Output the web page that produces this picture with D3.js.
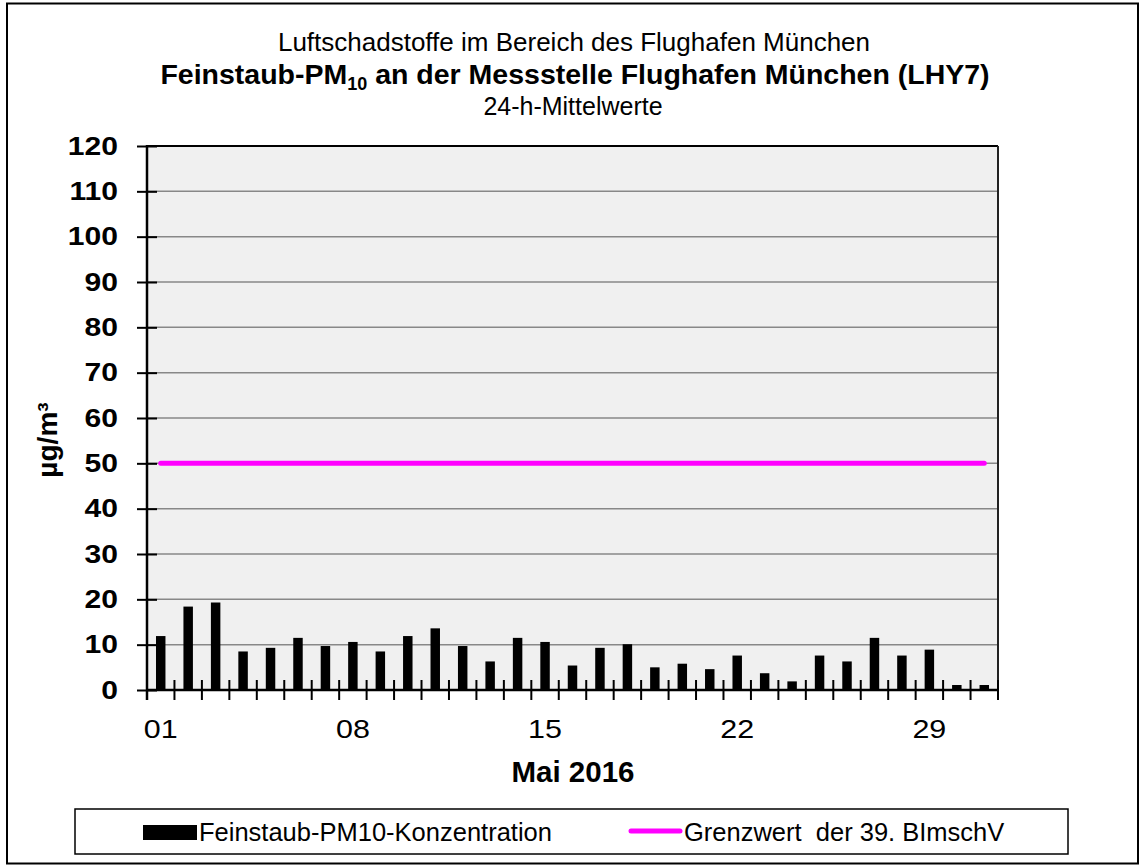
<!DOCTYPE html>
<html>
<head>
<meta charset="utf-8">
<script src="https://cdn.jsdelivr.net/npm/d3@7"></script>
<style>
  body { margin: 0; background: #fff; }
  text { font-family: 'Liberation Sans', Arial, sans-serif; fill: #000; }
</style>
</head>
<body>
<div id="wrapper"></div>
<script>
// Data (24-h means, May 2016)
const days = d3.range(1, 32).map((d) => String(d).padStart(2, '0'))
const pm10 = [11.9, 18.4, 19.3, 8.5, 9.3, 11.5, 9.7, 10.6, 8.5, 11.9, 13.6, 9.7, 6.3, 11.5, 10.6, 5.4,
  9.3, 10.1, 5.0, 5.8, 4.6, 7.6, 3.7, 1.9, 7.6, 6.3, 11.5, 7.6, 8.9, 1.1, 1.1]
const limitValue = 50
const yTicks = d3.range(0, 121, 10)
const xLabels = ['01', '08', '15', '22', '29']

const titleLines = ['Luftschadstoffe im Bereich des Flughafen München', '24-h-Mittelwerte']
const legendLabels = ['Feinstaub-PM10-Konzentration', 'Grenzwert  der 39. BImschV']

function draw() {
  const dimensions = {
    width: 1142,
    height: 867,
    margin: { top: 146, right: 144, bottom: 177, left: 147 },
  }
  dimensions.boundedWidth = dimensions.width - dimensions.margin.left - dimensions.margin.right
  dimensions.boundedHeight = dimensions.height - dimensions.margin.top - dimensions.margin.bottom

  const wrapper = d3.select('#wrapper')
    .append('svg')
    .attr('width', dimensions.width)
    .attr('height', dimensions.height)

  // outer frame
  wrapper.append('rect')
    .attr('x', 7).attr('y', 3.5)
    .attr('width', 1131).attr('height', 860)
    .attr('fill', 'none').attr('stroke', '#000').attr('stroke-width', 2)

  // titles
  wrapper.append('text')
    .attr('x', 574).attr('y', 51)
    .attr('text-anchor', 'middle')
    .style('font-size', '26px')
    .text(titleLines[0])

  const title2 = wrapper.append('text')
    .attr('x', 575).attr('y', 84)
    .attr('text-anchor', 'middle')
    .style('font-size', '28.5px')
    .style('font-weight', 'bold')
  title2.append('tspan').text('Feinstaub-PM')
  title2.append('tspan').attr('dy', 6).style('font-size', '18px').text('10')
  title2.append('tspan').attr('dy', -6).text(' an der Messstelle Flughafen München (LHY7)')

  wrapper.append('text')
    .attr('x', 573).attr('y', 115)
    .attr('text-anchor', 'middle')
    .style('font-size', '25px')
    .text(titleLines[1])

  const bounds = wrapper.append('g')
    .attr('transform', `translate(${dimensions.margin.left}, ${dimensions.margin.top})`)

  // scales
  const xScale = d3.scaleBand()
    .domain(days)
    .range([0, dimensions.boundedWidth])

  const yScale = d3.scaleLinear()
    .domain([0, 120])
    .range([dimensions.boundedHeight, 0])

  bounds.append('rect')
    .attr('width', dimensions.boundedWidth)
    .attr('height', dimensions.boundedHeight)
    .attr('fill', '#f0f0f0')

  // gridlines
  bounds.append('g')
    .selectAll('line')
    .data(yTicks.filter((d) => d > 0 && d < 120))
    .join('line')
    .attr('x1', 0).attr('x2', dimensions.boundedWidth)
    .attr('y1', (d) => yScale(d)).attr('y2', (d) => yScale(d))
    .attr('stroke', '#888').attr('stroke-width', 1.5)

  // plot border top / right
  bounds.append('line')
    .attr('x1', 0).attr('x2', dimensions.boundedWidth)
    .attr('y1', 0).attr('y2', 0)
    .attr('stroke', '#000').attr('stroke-width', 2)
  bounds.append('line')
    .attr('x1', dimensions.boundedWidth).attr('x2', dimensions.boundedWidth)
    .attr('y1', 0).attr('y2', dimensions.boundedHeight)
    .attr('stroke', '#222').attr('stroke-width', 2)

  // bars
  const barWidth = xScale.bandwidth() * 0.345
  bounds.append('g')
    .selectAll('rect')
    .data(pm10)
    .join('rect')
    .attr('x', (d, i) => xScale(days[i]) + (xScale.bandwidth() - barWidth) / 2)
    .attr('y', (d) => yScale(d))
    .attr('width', barWidth)
    .attr('height', (d) => yScale(0) - yScale(d))
    .attr('fill', '#000')

  // limit line
  bounds.append('line')
    .attr('x1', xScale(days[0]) + xScale.bandwidth() / 2)
    .attr('x2', xScale(days[days.length - 1]) + xScale.bandwidth() / 2)
    .attr('y1', yScale(limitValue)).attr('y2', yScale(limitValue))
    .attr('stroke', '#ff00ff').attr('stroke-width', 5)
    .attr('stroke-linecap', 'round')

  // y axis
  const yAxisGenerator = d3.axisLeft(yScale)
    .tickValues(yTicks)
    .tickSize(10)
    .tickPadding(18)
  const yAxis = bounds.append('g').call(yAxisGenerator)
  yAxis.select('.domain').remove()
  yAxis.selectAll('.tick line')
    .attr('x2', -10).attr('x1', 10)
    .attr('stroke-width', 2)
  // the original draws digits wider than Arial, so scale them horizontally
  yAxis.selectAll('.tick text')
    .attr('x', 0)
    .attr('transform', 'translate(-29, 0) scale(1.18, 1)')
    .style('font-size', '25.5px')
    .style('font-weight', 'bold')
    .style('font-family', "'Liberation Sans', Arial, sans-serif")
  bounds.append('line')
    .attr('x1', 0).attr('x2', 0)
    .attr('y1', -1).attr('y2', dimensions.boundedHeight + 10)
    .attr('stroke', '#000').attr('stroke-width', 2.5)

  // x axis: cross ticks on band edges
  const edges = days.map((d) => xScale(d)).concat([dimensions.boundedWidth]).slice(1)
  const xAxis = bounds.append('g')
    .attr('transform', `translate(0, ${dimensions.boundedHeight})`)
  xAxis.append('line')
    .attr('x1', 0).attr('x2', dimensions.boundedWidth)
    .attr('stroke', '#000').attr('stroke-width', 2.5)
  xAxis.selectAll('.tk')
    .data(edges)
    .join('line')
    .attr('class', 'tk')
    .attr('x1', (d) => d).attr('x2', (d) => d)
    .attr('y1', -10).attr('y2', 10)
    .attr('stroke', '#000').attr('stroke-width', 2)
  xAxis.selectAll('.lbl')
    .data(xLabels)
    .join('text')
    .attr('class', 'lbl')
    .attr('transform', (d) => `translate(${xScale(d) + xScale.bandwidth() / 2}, 48) scale(1.15, 1)`)
    .attr('text-anchor', 'middle')
    .style('font-size', '26.5px')
    .text((d) => d)

  // axis titles
  wrapper.append('text')
    .attr('x', 573).attr('y', 782)
    .attr('text-anchor', 'middle')
    .style('font-size', '29.5px')
    .style('font-weight', 'bold')
    .text('Mai 2016')

  wrapper.append('text')
    .attr('transform', 'translate(57, 440) rotate(-90)')
    .attr('text-anchor', 'middle')
    .style('font-size', '28px')
    .style('font-weight', 'bold')
    .text('µg/m³')

  // legend
  const legend = wrapper.append('g')
  legend.append('rect')
    .attr('x', 75).attr('y', 809)
    .attr('width', 993).attr('height', 45)
    .attr('fill', '#fff').attr('stroke', '#000').attr('stroke-width', 1.5)
  legend.append('rect')
    .attr('x', 143).attr('y', 825)
    .attr('width', 54).attr('height', 15)
    .attr('fill', '#000')
  legend.append('text')
    .attr('x', 199).attr('y', 841)
    .style('font-size', '25.5px')
    .text(legendLabels[0])
  legend.append('line')
    .attr('x1', 631).attr('x2', 680)
    .attr('y1', 831).attr('y2', 831)
    .attr('stroke', '#ff00ff').attr('stroke-width', 5)
    .attr('stroke-linecap', 'round')
  legend.append('text')
    .attr('x', 684).attr('y', 841)
    .style('font-size', '25.5px')
    .style('white-space', 'pre')
    .text(legendLabels[1])
}
draw()
</script>
</body>
</html>
